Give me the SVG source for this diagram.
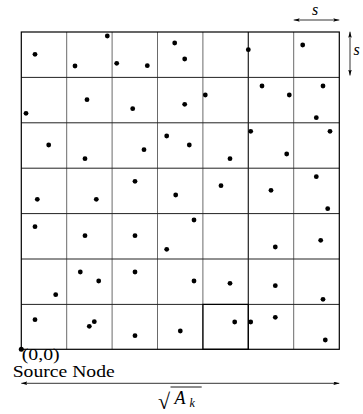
<svg xmlns="http://www.w3.org/2000/svg" width="363" height="414" viewBox="0 0 363 414">
<style>
.g{stroke:#6a6a6a;stroke-width:1;fill:none}
.h{stroke:#222;stroke-width:1;fill:none}
.b{stroke:#000;stroke-width:1.2;fill:none}
.d{fill:#000}
.t{font-family:"Liberation Serif","DejaVu Serif",serif;fill:#000}
.i{font-family:"Liberation Serif","DejaVu Serif",serif;font-style:italic;fill:#000}
.a{stroke:#000;stroke-width:0.8;fill:none}
</style>
<defs>
<marker id="ah" viewBox="0 0 10 6" refX="10" refY="3" markerWidth="6" markerHeight="3.6" orient="auto-start-reverse" markerUnits="userSpaceOnUse">
<path d="M0,0 L10,3 L0,6 L2,3 z" fill="#000"/>
</marker>
</defs>
<rect width="363" height="414" fill="#fff"/>
<g id="grid">
<path class="g" d="M66.7,32V349.3M112.1,32V349.3M157.5,32V349.3M202.9,32V349.3M248.3,32V349.3M293.7,32V349.3"/>
<path class="h" d="M21.3,77.4H339.3M21.3,122.8H339.3M21.3,168.2H339.3M21.3,213.6H339.3M21.3,259H339.3M21.3,304.4H339.3"/>
<path class="h" d="M248.3,32V349.3"/>
<rect class="b" x="21.3" y="32" width="318" height="317.3"/>
<rect id="cell" x="202.9" y="304.4" width="45.4" height="44.9" fill="none" stroke="#000" stroke-width="1.2"/>
</g>
<g id="nodes">
<circle class="d" cx="21.3" cy="349.3" r="2.5"/>
<circle class="d" cx="35" cy="54.3" r="2.4"/><circle class="d" cx="75" cy="66" r="2.4"/><circle class="d" cx="107.3" cy="36" r="2.4"/><circle class="d" cx="116.7" cy="63.3" r="2.4"/><circle class="d" cx="147.3" cy="65.7" r="2.4"/><circle class="d" cx="174.7" cy="43" r="2.4"/><circle class="d" cx="184.7" cy="59" r="2.4"/><circle class="d" cx="248.3" cy="49.7" r="2.4"/><circle class="d" cx="302.7" cy="45" r="2.4"/>
<circle class="d" cx="26" cy="113.3" r="2.4"/><circle class="d" cx="87" cy="99.7" r="2.4"/><circle class="d" cx="132.7" cy="108.7" r="2.4"/><circle class="d" cx="184.7" cy="104.3" r="2.4"/><circle class="d" cx="205.3" cy="95" r="2.4"/><circle class="d" cx="262" cy="86" r="2.4"/><circle class="d" cx="289.3" cy="95" r="2.4"/><circle class="d" cx="323" cy="86" r="2.4"/><circle class="d" cx="316.3" cy="117.7" r="2.4"/>
<circle class="d" cx="48.7" cy="145" r="2.4"/><circle class="d" cx="85" cy="158.7" r="2.4"/><circle class="d" cx="144" cy="149.7" r="2.4"/><circle class="d" cx="166.7" cy="136" r="2.4"/><circle class="d" cx="189.3" cy="145" r="2.4"/><circle class="d" cx="230" cy="158.7" r="2.4"/><circle class="d" cx="250.7" cy="131.3" r="2.4"/><circle class="d" cx="286.7" cy="154" r="2.4"/><circle class="d" cx="330" cy="131.3" r="2.4"/>
<circle class="d" cx="37.3" cy="199.3" r="2.4"/><circle class="d" cx="96.3" cy="199.3" r="2.4"/><circle class="d" cx="135" cy="181.3" r="2.4"/><circle class="d" cx="175.7" cy="195" r="2.4"/><circle class="d" cx="221" cy="185.7" r="2.4"/><circle class="d" cx="271" cy="190.3" r="2.4"/><circle class="d" cx="316.3" cy="176.7" r="2.4"/><circle class="d" cx="327.7" cy="208.7" r="2.4"/>
<circle class="d" cx="35" cy="226.7" r="2.4"/><circle class="d" cx="85" cy="235.7" r="2.4"/><circle class="d" cx="135" cy="235.7" r="2.4"/><circle class="d" cx="194" cy="220" r="2.4"/><circle class="d" cx="166.7" cy="249.3" r="2.4"/><circle class="d" cx="275.3" cy="247" r="2.4"/><circle class="d" cx="320.7" cy="240.3" r="2.4"/>
<circle class="d" cx="80.3" cy="272" r="2.4"/><circle class="d" cx="98.7" cy="281" r="2.4"/><circle class="d" cx="55.7" cy="294.7" r="2.4"/><circle class="d" cx="135" cy="272" r="2.4"/><circle class="d" cx="194" cy="281" r="2.4"/><circle class="d" cx="230" cy="283.3" r="2.4"/><circle class="d" cx="275.3" cy="285.7" r="2.4"/><circle class="d" cx="323" cy="299.3" r="2.4"/>
<circle class="d" cx="35" cy="319.7" r="2.4"/><circle class="d" cx="89.3" cy="326.3" r="2.4"/><circle class="d" cx="94.3" cy="321.7" r="2.4"/><circle class="d" cx="135" cy="335.7" r="2.4"/><circle class="d" cx="180.3" cy="331" r="2.4"/><circle class="d" cx="234.7" cy="322" r="2.4"/><circle class="d" cx="250.7" cy="322" r="2.4"/><circle class="d" cx="275.3" cy="317.3" r="2.4"/><circle class="d" cx="325.3" cy="340" r="2.4"/>
</g>
<g id="connectors">
<line class="a" x1="293.7" y1="20" x2="339.3" y2="20" marker-start="url(#ah)" marker-end="url(#ah)"/>
<line class="a" x1="350" y1="31.7" x2="350" y2="75.5" marker-start="url(#ah)" marker-end="url(#ah)"/>
<line class="a" x1="21.3" y1="383.3" x2="339.3" y2="383.3" marker-start="url(#ah)" marker-end="url(#ah)"/>
</g>
<g id="labels">
<text class="i" x="312" y="15" font-size="16">s</text>
<text class="i" x="353.5" y="55" font-size="16">s</text>
<text class="t" x="21.7" y="359.5" font-size="16" textLength="38" lengthAdjust="spacingAndGlyphs">(0,0)</text>
<text class="t" x="12.7" y="377" font-size="17" textLength="102" lengthAdjust="spacingAndGlyphs">Source Node</text>
<text class="t" x="158" y="409" font-size="22">√</text>
<line x1="170.5" y1="387" x2="201.7" y2="387" stroke="#000" stroke-width="0.9"/>
<text class="i" x="174.5" y="404" font-size="18">A</text>
<text class="i" x="189.5" y="407" font-size="12">k</text>
</g>
</svg>
